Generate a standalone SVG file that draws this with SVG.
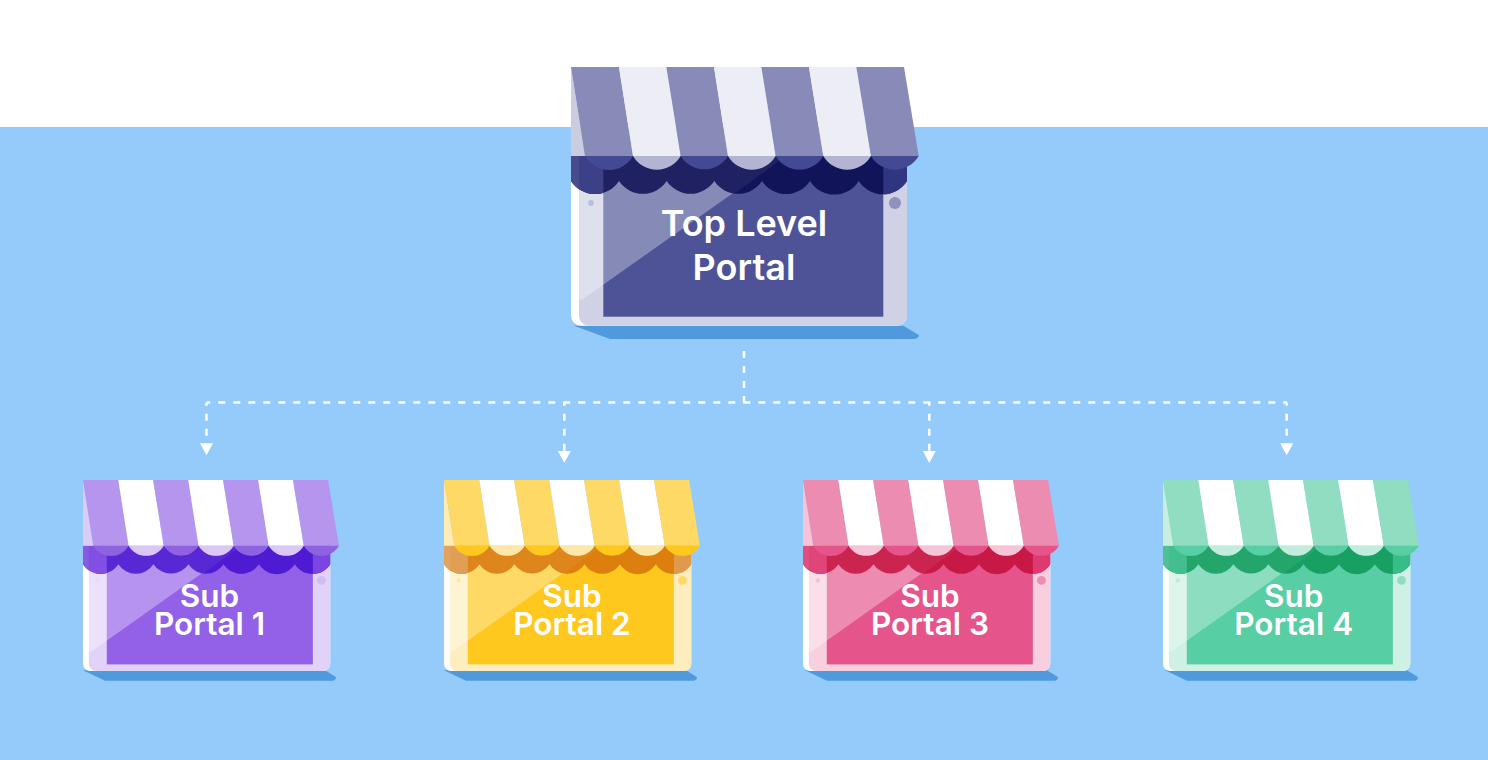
<svg xmlns="http://www.w3.org/2000/svg" xmlns:xlink="http://www.w3.org/1999/xlink" width="1488" height="760" viewBox="0 0 1488 760">
<style>
.t{--screen:#4D5396;--side:#D0D1E5;--band:#12145A;--vs:#2F3580;--stripe:#888BB8;--w:#ECEDF5;--sc1:#434A93;--sc2:#B3B4D4;--tri:#CBCCE0;--d1:#9FA2C8;--d2:#8F91BF}
.s1{--screen:#9361E8;--side:#E3D2F8;--band:#4E1BD2;--vs:#7A45E0;--stripe:#B595EE;--w:#FFF;--sc1:#8F62E2;--sc2:#DAC7F6;--tri:#DCCBF7;--d1:#DCCBF7;--d2:#D3BBF5}
.s2{--screen:#FFC81E;--side:#FEEDBE;--band:#DC7F0E;--vs:#DF9A4B;--stripe:#FFD966;--w:#FFF;--sc1:#FFC81E;--sc2:#FFE7A8;--tri:#FFEBB5;--d1:#FFDD77;--d2:#FFD866}
.s3{--screen:#E5558C;--side:#F8CFDF;--band:#C81845;--vs:#DD3A70;--stripe:#EC8CB1;--w:#FFF;--sc1:#E5558C;--sc2:#F6C3D7;--tri:#F6C3D7;--d1:#F0A0BF;--d2:#EE8CB1}
.s4{--screen:#57CEA3;--side:#CFF0E4;--band:#17A062;--vs:#38BC88;--stripe:#90DDC1;--w:#FFF;--sc1:#57CEA3;--sc2:#C2EDDD;--tri:#C8EFE0;--d1:#A0E2CB;--d2:#90DDC1}
.screen{fill:var(--screen)}.side{fill:var(--side)}.band{fill:var(--band)}.vs{fill:var(--vs)}
.stripe{fill:var(--stripe)}.w{fill:var(--w)}.sc1{fill:var(--sc1)}.sc2{fill:var(--sc2)}.tri{fill:var(--tri)}.d1{fill:var(--d1)}.d2{fill:var(--d2)}
.shadow{fill:#4E9ADD}
.link{fill:none;stroke:#FFF;stroke-width:2.5;stroke-dasharray:7 8;stroke-dashoffset:3.7;marker-end:url(#arrow)}
.trunk{fill:none;stroke:#FFF;stroke-width:2.5;stroke-dasharray:7 8}
text{font-family:"Inter","Liberation Sans",sans-serif;font-weight:600;fill:#FFF;text-anchor:middle}
.big{font-size:36px}.small{font-size:31.5px}
</style>
<defs>
<marker id="arrow" viewBox="0 -6.5 12 13" refX="0" refY="0" markerWidth="12" markerHeight="13" markerUnits="userSpaceOnUse" orient="auto"><path d="M0,-6.5L12,0L0,6.5Z" fill="#FFF"/></marker>
<path id="valance-shape" d="M0,89H336V114A28.6,28.6 0 0 1 287.7,114A28.6,28.6 0 0 1 239,114A28.6,28.6 0 0 1 191,114A28.6,28.6 0 0 1 143.3,114A28.6,28.6 0 0 1 95.7,114A28.6,28.6 0 0 1 48,114A28.6,28.6 0 0 1 0,114Z"/>
<clipPath id="valance-clip"><use href="#valance-shape"/></clipPath>
<g id="store">
<rect x="0" y="90" width="336" height="168.7" rx="10" fill="#FFF"/>
<rect class="side" x="8" y="90" width="328" height="168.7" rx="10"/>
<rect class="screen" x="32.3" y="100" width="280" height="149.7"/>
<circle class="d1" cx="20" cy="136" r="3"/>
<circle class="d2" cx="324" cy="136" r="6"/>
<path d="M8,100H199L12,232Q9,235 8,230Z" fill="#FFF" fill-opacity=".32"/>
<use class="band" href="#valance-shape"/>
<g clip-path="url(#valance-clip)">
<rect class="vs" x="0" y="89" width="32.3" height="40"/>
<rect class="vs" x="312.3" y="89" width="23.7" height="40"/>
<path d="M0,89H215L163,127H0Z" fill="#FFF" fill-opacity=".06"/>
<rect x="0" y="89" width="8" height="40" fill="#FFF" fill-opacity=".06"/>
</g>
<path class="tri" d="M0,0L14,89H0Z"/>
<path class="stripe" d="M0,0H48L62,89H14Z"/>
<path class="w" d="M48,0H95.3L109.7,89H62Z"/>
<path class="stripe" d="M95.3,0H143L157,89H109.7Z"/>
<path class="w" d="M143,0H190.3L204.7,89H157Z"/>
<path class="stripe" d="M190.3,0H238L252.3,89H204.7Z"/>
<path class="w" d="M238,0H285.3L300,89H252.3Z"/>
<path class="stripe" d="M285.3,0H333L347.7,89H300Z"/>
<path class="sc1" d="M14,89H62A27.6,27.6 0 0 1 14,89Z"/>
<path class="sc2" d="M62,89H109.7A27.6,27.6 0 0 1 62,89Z"/>
<path class="sc1" d="M109.7,89H157A27.6,27.6 0 0 1 109.7,89Z"/>
<path class="sc2" d="M157,89H204.7A27.6,27.6 0 0 1 157,89Z"/>
<path class="sc1" d="M204.7,89H252.3A27.6,27.6 0 0 1 204.7,89Z"/>
<path class="sc2" d="M252.3,89H300A27.6,27.6 0 0 1 252.3,89Z"/>
<path class="sc1" d="M300,89H347.7A27.6,27.6 0 0 1 300,89Z"/>
</g>
<path id="sub-shadow" d="M0,190.3L22,200.7H250Q254,199 252.7,197L242,190.3Z"/>
</defs>
<rect width="1488" height="760" fill="#94CBFB"/>
<rect width="1488" height="127" fill="#FFF"/>
<g id="connectors">
<path class="trunk" d="M744,351V402.5"/>
<path class="trunk" d="M207,402.5H1287" stroke-dashoffset="3.7"/>
<path class="link" d="M206.5,402.5V443.3"/>
<path class="link" d="M564.3,402.5V451"/>
<path class="link" d="M929.3,402.5V451"/>
<path class="link" d="M1286.7,402.5V443.3"/>
</g>
<g id="top-portal" class="t">
<path class="shadow" d="M574,325.7L610,339H915Q920,337 918.7,335L903.3,325.7Z"/>
<use href="#store" transform="translate(571 67)"/>
<text class="big" x="744" y="236">Top Level</text>
<text class="big" x="744" y="280">Portal</text>
</g>
<g id="sub-portal-1" class="s1">
<use class="shadow" href="#sub-shadow" transform="translate(83 480)"/>
<use href="#store" transform="translate(83 480) scale(.736 .7385)"/>
<text class="small" x="209.5" y="607">Sub</text>
<text class="small" x="209.5" y="635">Portal 1</text>
</g>
<g id="sub-portal-2" class="s2">
<use class="shadow" href="#sub-shadow" transform="translate(444 480)"/>
<use href="#store" transform="translate(444 480) scale(.736 .7385)"/>
<text class="small" x="572" y="607">Sub</text>
<text class="small" x="572" y="635">Portal 2</text>
</g>
<g id="sub-portal-3" class="s3">
<use class="shadow" href="#sub-shadow" transform="translate(805 480)"/>
<use href="#store" transform="translate(803 480) scale(.736 .7385)"/>
<text class="small" x="930" y="607">Sub</text>
<text class="small" x="930" y="635">Portal 3</text>
</g>
<g id="sub-portal-4" class="s4">
<use class="shadow" href="#sub-shadow" transform="translate(1165 480)"/>
<use href="#store" transform="translate(1163 480) scale(.736 .7385)"/>
<text class="small" x="1293.7" y="607">Sub</text>
<text class="small" x="1293.7" y="635">Portal 4</text>
</g>
</svg>
